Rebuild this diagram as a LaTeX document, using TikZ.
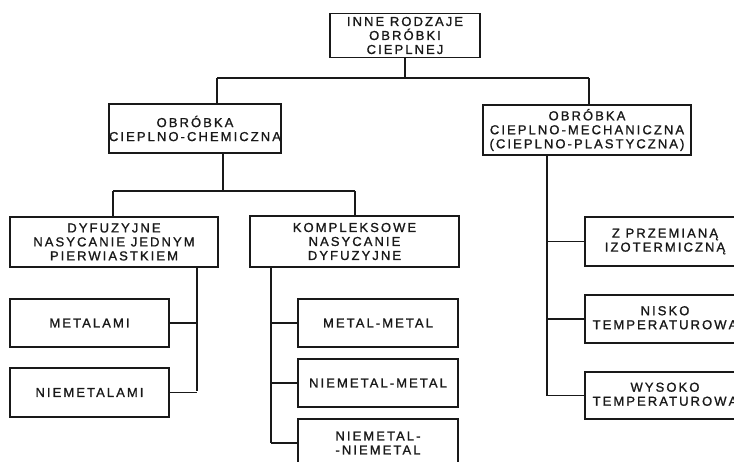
\documentclass[tikz,border=0pt]{standalone}
\usepackage{fontspec}
\setmainfont{Liberation Sans}[LetterSpace=16, FakeBold=1.2]
\tikzset{
  box/.style={draw=black!90, line width=1.3pt, inner sep=0pt, align=center,
    font=\fontsize{13}{14}\selectfont, text=black!90},
  ln/.style={draw=black!90, line width=1.3pt},
}
\begin{document}
\begin{tikzpicture}[x=1pt,y=-1pt]
\useasboundingbox (0,0) rectangle (734,461);
\clip (0,0) rectangle (734,461);
\node[box, minimum width=150pt, minimum height=44pt] (top) at (405,35.5) {INNE RODZAJE\\OBRÓBKI\\CIEPLNEJ};
\node[box, minimum width=164pt, minimum height=49pt] (chem) at (195,128.5) {OBRÓBKA\\CIEPLNO-CHEMICZNA};
\node[box, minimum width=208pt, minimum height=50pt] (mech) at (587,130) {OBRÓBKA\\CIEPLNO-MECHANICZNA\\(CIEPLNO-PLASTYCZNA)};
\node[box, minimum width=208pt, minimum height=50pt] (dyf) at (114,242) {DYFUZYJNE\\NASYCANIE JEDNYM\\PIERWIASTKIEM};
\node[box, minimum width=209pt, minimum height=51pt] (komp) at (354.5,241.5) {KOMPLEKSOWE\\NASYCANIE\\DYFUZYJNE};
\node[box, minimum width=159pt, minimum height=48pt] (met) at (89.5,323) {METALAMI};
\node[box, minimum width=159pt, minimum height=49pt] (niemet) at (89.5,392.5) {NIEMETALAMI};
\node[box, minimum width=160pt, minimum height=48pt] (mm) at (378,323) {METAL-METAL};
\node[box, minimum width=160pt, minimum height=48pt] (nm) at (378,383) {NIEMETAL-METAL};
\node[box, minimum width=160pt, minimum height=48pt] (nn) at (378,443) {NIEMETAL-\\-NIEMETAL};
\node[box, minimum width=160pt, minimum height=49pt] (zp) at (665,241.5) {Z PRZEMIANĄ\\IZOTERMICZNĄ};
\node[box, minimum width=160pt, minimum height=48pt] (nisko) at (665,319) {NISKO\\TEMPERATUROWĄ};
\node[box, minimum width=160pt, minimum height=47pt] (wys) at (665,395.5) {WYSOKO\\TEMPERATUROWĄ};
% level 1
\coordinate (j1) at (405,78);
\coordinate (bl) at (217,78);
\coordinate (br) at (589,78);
\draw[ln] (top.south) -- (j1);
\draw[ln] (bl) -- (br);
\draw[ln] (bl) -- (bl |- chem.north);
\draw[ln] (br) -- (br |- mech.north);
% chem branch
\coordinate (c1) at (223,191);
\coordinate (cl) at (113,191);
\coordinate (cr) at (355,191);
\draw[ln] (c1 |- chem.south) -- (c1);
\draw[ln] (cl) -- (cr);
\draw[ln] (cl) -- (cl |- dyf.north);
\draw[ln] (cr) -- (cr |- komp.north);
% dyf bus
\coordinate (d1) at (197,391);
\draw[ln] (d1 |- dyf.south) -- (d1);
\draw[ln] (met.east) -- (met.east -| d1);
\draw[ln] (niemet.east) -- (niemet.east -| d1);
% komp bus
\coordinate (k1) at (271,443);
\draw[ln] (k1 |- komp.south) -- (k1);
\draw[ln] (mm.west) -- (mm.west -| k1);
\draw[ln] (nm.west) -- (nm.west -| k1);
\draw[ln] (nn.west) -- (nn.west -| k1);
% mech bus
\coordinate (m1) at (547,395.5);
\draw[ln] (m1 |- mech.south) -- (m1);
\draw[ln] (zp.west) -- (zp.west -| m1);
\draw[ln] (nisko.west) -- (nisko.west -| m1);
\draw[ln] (wys.west) -- (wys.west -| m1);
\end{tikzpicture}
\end{document}
